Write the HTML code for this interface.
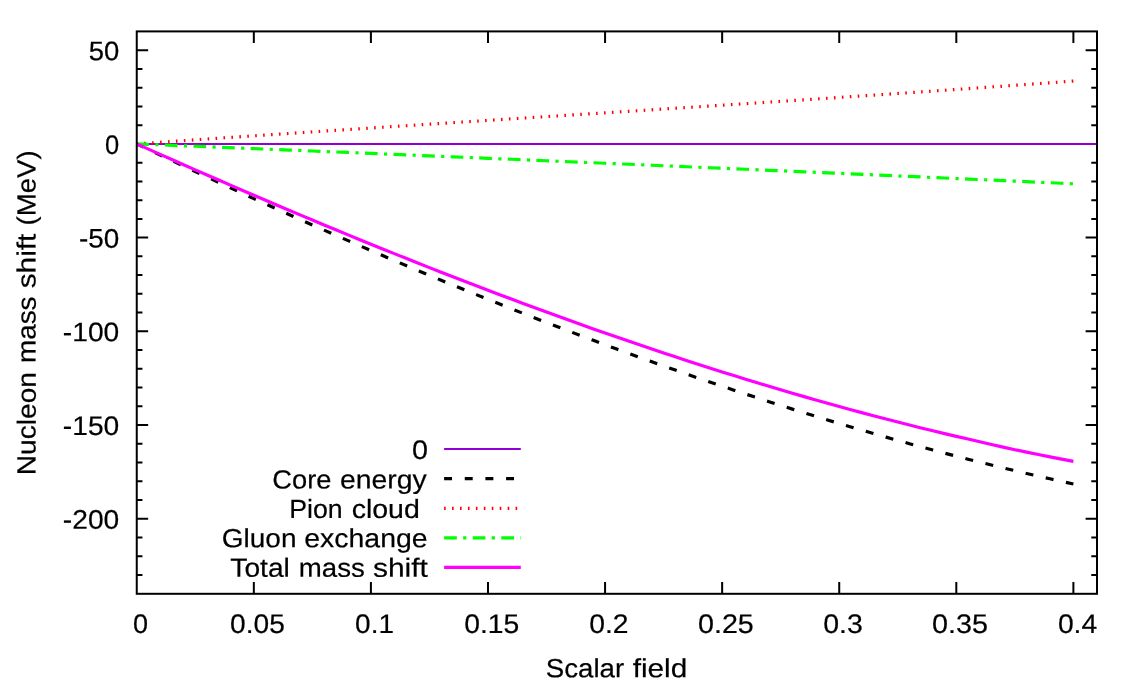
<!DOCTYPE html>
<html><head><meta charset="utf-8"><title>Nucleon mass shift</title>
<style>
html,body{margin:0;padding:0;background:#fff;}
svg{display:block;}
svg text{font-family:"Liberation Sans",sans-serif;font-size:26.0px;fill:#000;stroke:#000;stroke-width:0.2;}
</style></head><body>
<svg width="1144" height="687" viewBox="0 0 1144 687">
<defs><filter id="g" x="0" y="0" width="1144" height="687" filterUnits="userSpaceOnUse" color-interpolation-filters="sRGB"><feOffset dx="0" dy="0"/></filter></defs>
<rect width="1144" height="687" fill="#fff"/>
<path d="M253.83,593.80v-11.7M253.83,31.40v11.7M370.91,593.80v-11.7M370.91,31.40v11.7M487.99,593.80v-11.7M487.99,31.40v11.7M605.07,593.80v-11.7M605.07,31.40v11.7M722.15,593.80v-11.7M722.15,31.40v11.7M839.23,593.80v-11.7M839.23,31.40v11.7M956.31,593.80v-11.7M956.31,31.40v11.7M1073.39,593.80v-11.7M1073.39,31.40v11.7M136.75,575.03h5.7M1097.00,575.03h-5.7M136.75,556.29h5.7M1097.00,556.29h-5.7M136.75,537.55h5.7M1097.00,537.55h-5.7M136.75,518.80h11.4M1097.00,518.80h-11.4M136.75,500.06h5.7M1097.00,500.06h-5.7M136.75,481.31h5.7M1097.00,481.31h-5.7M136.75,462.57h5.7M1097.00,462.57h-5.7M136.75,443.82h5.7M1097.00,443.82h-5.7M136.75,425.08h11.4M1097.00,425.08h-11.4M136.75,406.33h5.7M1097.00,406.33h-5.7M136.75,387.59h5.7M1097.00,387.59h-5.7M136.75,368.84h5.7M1097.00,368.84h-5.7M136.75,350.10h5.7M1097.00,350.10h-5.7M136.75,331.35h11.4M1097.00,331.35h-11.4M136.75,312.61h5.7M1097.00,312.61h-5.7M136.75,293.86h5.7M1097.00,293.86h-5.7M136.75,275.12h5.7M1097.00,275.12h-5.7M136.75,256.37h5.7M1097.00,256.37h-5.7M136.75,237.62h11.4M1097.00,237.62h-11.4M136.75,218.88h5.7M1097.00,218.88h-5.7M136.75,200.13h5.7M1097.00,200.13h-5.7M136.75,181.39h5.7M1097.00,181.39h-5.7M136.75,162.65h5.7M1097.00,162.65h-5.7M136.75,143.90h11.4M1097.00,143.90h-11.4M136.75,125.16h5.7M1097.00,125.16h-5.7M136.75,106.41h5.7M1097.00,106.41h-5.7M136.75,87.67h5.7M1097.00,87.67h-5.7M136.75,68.92h5.7M1097.00,68.92h-5.7M136.75,50.17h11.4M1097.00,50.17h-11.4" stroke="#000" stroke-width="2.0" fill="none"/>
<path d="M136.75,143.90H1097.00" stroke="#9400d3" stroke-width="2" fill="none"/>
<path d="M136.75,143.90 L148.46,149.48 L160.17,155.04 L171.87,160.58 L183.58,166.09 L195.29,171.57 L207.00,177.03 L218.71,182.47 L230.41,187.87 L242.12,193.25 L253.83,198.61 L265.54,203.93 L277.25,209.23 L288.95,214.50 L300.66,219.74 L312.37,224.95 L324.08,230.13 L335.79,235.28 L347.49,240.40 L359.20,245.49 L370.91,250.55 L382.62,255.58 L394.33,260.58 L406.03,265.55 L417.74,270.48 L429.45,275.38 L441.16,280.25 L452.87,285.08 L464.57,289.89 L476.28,294.65 L487.99,299.38 L499.70,304.08 L511.41,308.74 L523.11,313.37 L534.82,317.96 L546.53,322.51 L558.24,327.03 L569.95,331.51 L581.65,335.96 L593.36,340.36 L605.07,344.73 L616.78,349.06 L628.49,353.35 L640.19,357.60 L651.90,361.81 L663.61,365.98 L675.32,370.11 L687.03,374.20 L698.73,378.25 L710.44,382.25 L722.15,386.22 L733.86,390.14 L745.57,394.02 L757.27,397.86 L768.98,401.66 L780.69,405.41 L792.40,409.12 L804.11,412.78 L815.81,416.40 L827.52,419.97 L839.23,423.50 L850.94,426.98 L862.65,430.42 L874.35,433.80 L886.06,437.15 L897.77,440.44 L909.48,443.69 L921.19,446.89 L932.89,450.04 L944.60,453.14 L956.31,456.20 L968.02,459.20 L979.73,462.15 L991.43,465.06 L1003.14,467.91 L1014.85,470.71 L1026.56,473.46 L1038.27,476.16 L1049.97,478.81 L1061.68,481.40 L1073.39,483.95" stroke="#000" stroke-width="3.178" stroke-dasharray="7.945 12.712" stroke-dashoffset="0.45" fill="none"/>
<path d="M136.75,143.90 L148.46,143.08 L160.17,142.26 L171.87,141.44 L183.58,140.63 L195.29,139.82 L207.00,139.01 L218.71,138.21 L230.41,137.41 L242.12,136.61 L253.83,135.82 L265.54,135.03 L277.25,134.24 L288.95,133.46 L300.66,132.67 L312.37,131.89 L324.08,131.11 L335.79,130.34 L347.49,129.56 L359.20,128.79 L370.91,128.02 L382.62,127.25 L394.33,126.48 L406.03,125.72 L417.74,124.95 L429.45,124.19 L441.16,123.43 L452.87,122.67 L464.57,121.91 L476.28,121.15 L487.99,120.39 L499.70,119.63 L511.41,118.87 L523.11,118.12 L534.82,117.36 L546.53,116.60 L558.24,115.85 L569.95,115.09 L581.65,114.33 L593.36,113.58 L605.07,112.82 L616.78,112.06 L628.49,111.31 L640.19,110.55 L651.90,109.79 L663.61,109.03 L675.32,108.27 L687.03,107.50 L698.73,106.74 L710.44,105.98 L722.15,105.21 L733.86,104.44 L745.57,103.67 L757.27,102.90 L768.98,102.13 L780.69,101.36 L792.40,100.58 L804.11,99.80 L815.81,99.02 L827.52,98.24 L839.23,97.45 L850.94,96.66 L862.65,95.87 L874.35,95.08 L886.06,94.28 L897.77,93.48 L909.48,92.68 L921.19,91.87 L932.89,91.06 L944.60,90.25 L956.31,89.43 L968.02,88.61 L979.73,87.79 L991.43,86.96 L1003.14,86.13 L1014.85,85.29 L1026.56,84.45 L1038.27,83.61 L1049.97,82.76 L1061.68,81.91 L1073.39,81.05" stroke="#f00" stroke-width="3.178" stroke-dasharray="1.589 6.356" stroke-dashoffset="0.45" fill="none"/>
<path d="M136.75,143.90 L148.46,144.37 L160.17,144.84 L171.87,145.31 L183.58,145.78 L195.29,146.25 L207.00,146.73 L218.71,147.20 L230.41,147.67 L242.12,148.15 L253.83,148.62 L265.54,149.10 L277.25,149.58 L288.95,150.06 L300.66,150.53 L312.37,151.01 L324.08,151.49 L335.79,151.97 L347.49,152.46 L359.20,152.94 L370.91,153.42 L382.62,153.91 L394.33,154.39 L406.03,154.88 L417.74,155.36 L429.45,155.85 L441.16,156.34 L452.87,156.83 L464.57,157.32 L476.28,157.81 L487.99,158.30 L499.70,158.79 L511.41,159.28 L523.11,159.77 L534.82,160.27 L546.53,160.76 L558.24,161.26 L569.95,161.75 L581.65,162.25 L593.36,162.75 L605.07,163.24 L616.78,163.74 L628.49,164.24 L640.19,164.74 L651.90,165.25 L663.61,165.75 L675.32,166.25 L687.03,166.75 L698.73,167.26 L710.44,167.76 L722.15,168.27 L733.86,168.77 L745.57,169.28 L757.27,169.79 L768.98,170.30 L780.69,170.81 L792.40,171.32 L804.11,171.83 L815.81,172.34 L827.52,172.85 L839.23,173.37 L850.94,173.88 L862.65,174.40 L874.35,174.91 L886.06,175.43 L897.77,175.94 L909.48,176.46 L921.19,176.98 L932.89,177.50 L944.60,178.02 L956.31,178.54 L968.02,179.06 L979.73,179.58 L991.43,180.11 L1003.14,180.63 L1014.85,181.16 L1026.56,181.68 L1038.27,182.21 L1049.97,182.73 L1061.68,183.26 L1073.39,183.79" stroke="#0f0" stroke-width="3.178" stroke-dasharray="12.712 6.356 3.178 6.356" stroke-dashoffset="0.45" fill="none"/>
<path d="M136.75,143.90 L148.46,149.13 L160.17,154.34 L171.87,159.53 L183.58,164.70 L195.29,169.85 L207.00,174.97 L218.71,180.07 L230.41,185.16 L242.12,190.21 L253.83,195.25 L265.54,200.26 L277.25,205.25 L288.95,210.21 L300.66,215.14 L312.37,220.05 L324.08,224.94 L335.79,229.79 L347.49,234.62 L359.20,239.42 L370.91,244.20 L382.62,248.94 L394.33,253.65 L406.03,258.34 L417.74,263.00 L429.45,267.62 L441.16,272.21 L452.87,276.78 L464.57,281.31 L476.28,285.80 L487.99,290.27 L499.70,294.70 L511.41,299.10 L523.11,303.46 L534.82,307.79 L546.53,312.08 L558.24,316.33 L569.95,320.55 L581.65,324.74 L593.36,328.88 L605.07,332.99 L616.78,337.06 L628.49,341.09 L640.19,345.09 L651.90,349.04 L663.61,352.95 L675.32,356.83 L687.03,360.66 L698.73,364.45 L710.44,368.19 L722.15,371.90 L733.86,375.56 L745.57,379.18 L757.27,382.76 L768.98,386.29 L780.69,389.77 L792.40,393.21 L804.11,396.61 L815.81,399.96 L827.52,403.26 L839.23,406.52 L850.94,409.72 L862.65,412.88 L874.35,415.99 L886.06,419.05 L897.77,422.07 L909.48,425.03 L921.19,427.94 L932.89,430.80 L944.60,433.61 L956.31,436.37 L968.02,439.07 L979.73,441.76 L991.43,444.47 L1003.14,447.14 L1014.85,449.71 L1026.56,452.15 L1038.27,454.53 L1049.97,456.85 L1061.68,459.12 L1073.39,461.33" stroke="#f0f" stroke-width="3.178" fill="none"/>
<path d="M444.1,449.0H520.8" stroke="#9400d3" stroke-width="2" fill="none"/>
<path d="M444.1,478.6H520.8" stroke="#000" stroke-width="3.178" stroke-dasharray="7.945 12.712" fill="none"/>
<path d="M444.1,508.3H520.8" stroke="#f00" stroke-width="3.178" stroke-dasharray="1.589 6.356" fill="none"/>
<path d="M444.1,537.8H520.8" stroke="#0f0" stroke-width="3.178" stroke-dasharray="12.712 6.356 3.178 6.356" fill="none"/>
<path d="M444.1,567.4H520.8" stroke="#f0f" stroke-width="3.178" fill="none"/>
<rect x="136.75" y="31.4" width="960.25" height="562.40" stroke="#000" stroke-width="2.0" fill="none"/>
<g filter="url(#g)">
<text transform="translate(88.72,60.17) rotate(0.03) scale(1.0561,1.0350)">50</text>
<text transform="translate(105.00,153.90) rotate(0.03) scale(0.9787,1.0350)">0</text>
<text transform="translate(78.96,247.62) rotate(0.03) scale(1.0715,1.0350)">-50</text>
<text transform="translate(62.85,341.35) rotate(0.03) scale(1.0842,1.0350)">-100</text>
<text transform="translate(62.85,435.08) rotate(0.03) scale(1.0842,1.0350)">-150</text>
<text transform="translate(62.85,528.80) rotate(0.03) scale(1.0842,1.0350)">-200</text>
<text transform="translate(133.04,632.90) rotate(0.03) scale(1.0391,1.0350)">0</text>
<text transform="translate(230.10,632.90) rotate(0.03) scale(1.0808,1.0350)">0.05</text>
<text transform="translate(355.11,632.90) rotate(0.03) scale(1.0743,1.0350)">0.1</text>
<text transform="translate(464.29,632.90) rotate(0.03) scale(1.0870,1.0350)">0.15</text>
<text transform="translate(589.29,632.90) rotate(0.03) scale(1.0873,1.0350)">0.2</text>
<text transform="translate(697.98,632.90) rotate(0.03) scale(1.1035,1.0350)">0.25</text>
<text transform="translate(823.19,632.90) rotate(0.03) scale(1.0944,1.0350)">0.3</text>
<text transform="translate(932.07,632.90) rotate(0.03) scale(1.1056,1.0350)">0.35</text>
<text transform="translate(1057.89,632.90) rotate(0.03) scale(1.0875,1.0350)">0.4</text>
<text transform="translate(545.77,677.30) rotate(0.03) scale(1.0647,1.0120)">Scalar</text>
<text transform="translate(632.67,677.30) rotate(0.03) scale(1.1460,1.0120)">field</text>
<text transform="translate(35.60,475.21) rotate(-89.97) scale(1.0813,1.0120)">Nucleon</text>
<text transform="translate(35.60,363.07) rotate(-89.97) scale(1.0731,1.0120)">mass</text>
<text transform="translate(35.60,288.33) rotate(-89.97) scale(1.1490,1.0120)">shift</text>
<text transform="translate(35.60,225.42) rotate(-89.97) scale(1.0616,1.0120)">(MeV)</text>
<text transform="translate(411.88,458.90) rotate(0.03) scale(1.1035,1.0350)">0</text>
<text transform="translate(272.36,488.40) rotate(0.03) scale(1.0492,1.0120)">Core</text>
<text transform="translate(339.88,488.40) rotate(0.03) scale(1.0922,1.0120)">energy</text>
<text transform="translate(289.26,518.00) rotate(0.03) scale(1.0259,1.0120)">Pion</text>
<text transform="translate(351.68,518.00) rotate(0.03) scale(1.0969,1.0120)">cloud</text>
<text transform="translate(221.78,547.30) rotate(0.03) scale(1.0771,1.0120)">Gluon</text>
<text transform="translate(304.28,547.30) rotate(0.03) scale(1.0944,1.0120)">exchange</text>
<text transform="translate(230.36,576.80) rotate(0.03) scale(1.0840,1.0120)">Total</text>
<text transform="translate(298.85,576.80) rotate(0.03) scale(1.0630,1.0120)">mass</text>
<text transform="translate(372.96,576.80) rotate(0.03) scale(1.1533,1.0120)">shift</text>
</g>
</svg></body></html>
